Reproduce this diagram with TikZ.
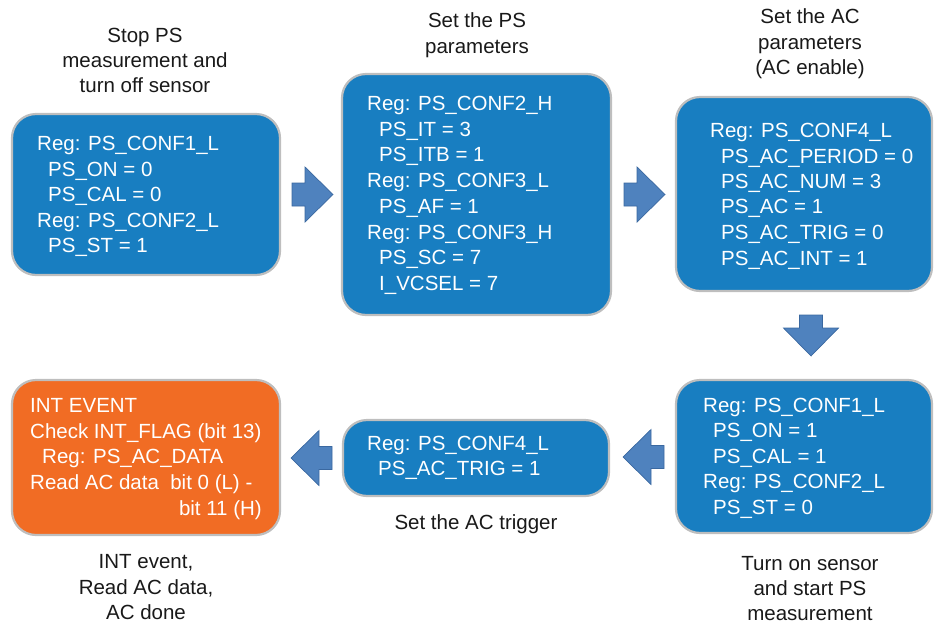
\documentclass[tikz,border=0pt]{standalone}
\usepackage{fontspec}
\setmainfont{Liberation Sans}
\definecolor{boxblue}{RGB}{24,126,193}
\definecolor{boxorange}{RGB}{241,108,36}
\definecolor{boxedge}{RGB}{190,190,190}
\definecolor{arrfill}{RGB}{79,130,190}
\definecolor{arredge}{RGB}{58,104,160}
\definecolor{ttlcol}{RGB}{25,25,25}
\tikzset{
  bbox/.style={draw=boxedge, line width=2.2pt, fill=boxblue, rounded corners=24pt, inner sep=0pt},
  obox/.style={bbox, fill=boxorange},
  txt/.style={anchor=west, inner sep=0pt, text height=14.9pt, text depth=0pt, text=white, font=\fontsize{20.5}{25.5}\selectfont},
  ttl/.style={anchor=center, inner sep=0pt, text height=14.9pt, text depth=0pt, text=ttlcol, font=\fontsize{20.5}{25.5}\selectfont},
  barrow/.pic={\draw[fill=arrfill, draw=arredge, line width=0.7pt, line join=miter]
     (0,-11.5) -- (13,-11.5) -- (13,-27.5) -- (41,0) -- (13,27.5) -- (13,11.5) -- (0,11.5) -- cycle;}
}
\begin{document}
\begin{tikzpicture}[x=1pt,y=-1pt]
\useasboundingbox (0,0) rectangle (935,627);

% boxes
\node[bbox, minimum width=268pt, minimum height=161pt] (b1) at (146,194.5) {};
\node[bbox, minimum width=269pt, minimum height=241pt] (b2) at (476.5,194.5) {};
\node[bbox, minimum width=256pt, minimum height=194pt] (b3) at (804,194) {};
\node[bbox, minimum width=256pt, minimum height=153pt] (b4) at (804,456.5) {};
\node[bbox, minimum width=266pt, minimum height=76pt] (b5) at (476,458) {};
\node[obox, minimum width=268pt, minimum height=155pt] (b6) at (146,457.5) {};

% block arrows
\pic at (292,194.5) {barrow};
\pic at (624,194.5) {barrow};
\pic[rotate=-90] at (811,315) {barrow};
\pic[rotate=180] at (664,457) {barrow};
\pic[rotate=180] at (332,458) {barrow};

% box 1
\node[txt] (t1a) at (37,143) {Reg: PS\_CONF1\_L};
\node[txt] (t1b) at (48,169) {PS\_ON = 0};
\node[txt] (t1c) at (48,194.5) {PS\_CAL = 0};
\node[txt] (t1d) at (37,220) {Reg: PS\_CONF2\_L};
\node[txt] (t1e) at (48,245) {PS\_ST = 1};

% box 2
\node[txt] (t2a) at (367,103) {Reg: PS\_CONF2\_H};
\node[txt] (t2b) at (379,129) {PS\_IT = 3};
\node[txt] (t2c) at (379,154.5) {PS\_ITB = 1};
\node[txt] (t2d) at (367,180) {Reg: PS\_CONF3\_L};
\node[txt] (t2e) at (379,206) {PS\_AF = 1};
\node[txt] (t2f) at (367,232) {Reg: PS\_CONF3\_H};
\node[txt] (t2g) at (379,257.5) {PS\_SC = 7};
\node[txt] (t2h) at (379,283) {I\_VCSEL = 7};

% box 3
\node[txt] (t3a) at (710,130) {Reg: PS\_CONF4\_L};
\node[txt] (t3b) at (721,156) {PS\_AC\_PERIOD = 0};
\node[txt] (t3c) at (721,181) {PS\_AC\_NUM = 3};
\node[txt] (t3d) at (721,206.5) {PS\_AC = 1};
\node[txt] (t3e) at (721,232.5) {PS\_AC\_TRIG = 0};
\node[txt] (t3f) at (721,258) {PS\_AC\_INT = 1};

% box 4
\node[txt] (t4a) at (703,405) {Reg: PS\_CONF1\_L};
\node[txt] (t4b) at (713,430.5) {PS\_ON = 1};
\node[txt] (t4c) at (713,456) {PS\_CAL = 1};
\node[txt] (t4d) at (703,481.5) {Reg: PS\_CONF2\_L};
\node[txt] (t4e) at (713,507) {PS\_ST = 0};

% box 5
\node[txt] (t5a) at (367,443) {Reg: PS\_CONF4\_L};
\node[txt] (t5b) at (378,468.5) {PS\_AC\_TRIG = 1};

% box 6
\node[txt] (t6a) at (30,405) {INT EVENT};
\node[txt] (t6b) at (30,431) {Check INT\_FLAG (bit 13)};
\node[txt] (t6c) at (42,456.5) {Reg: PS\_AC\_DATA};
\node[txt] (t6d) at (30,482.5) {Read AC data~ bit 0 (L) -};
\node[txt, anchor=east] (t6e) at (262,508) {bit 11 (H)};

% captions
\node[ttl] (c1a) at (145,35) {Stop PS};
\node[ttl] (c1b) at (145,60) {measurement and};
\node[ttl] (c1c) at (145,85) {turn off sensor};
\node[ttl] (c2a) at (477,20) {Set the PS};
\node[ttl] (c2b) at (477,46) {parameters};
\node[ttl] (c3a) at (810,16) {Set the AC};
\node[ttl] (c3b) at (810,42) {parameters};
\node[ttl] (c3c) at (810,67) {(AC enable)};
\node[ttl] (c5) at (476,522) {Set the AC trigger};
\node[ttl] (c4a) at (810,563) {Turn on sensor};
\node[ttl] (c4b) at (810,588) {and start PS};
\node[ttl] (c4c) at (810,613) {measurement};
\node[ttl] (c6a) at (146,561) {INT event,};
\node[ttl] (c6b) at (146,587) {Read AC data,};
\node[ttl] (c6c) at (146,612) {AC done};
\end{tikzpicture}
\end{document}
